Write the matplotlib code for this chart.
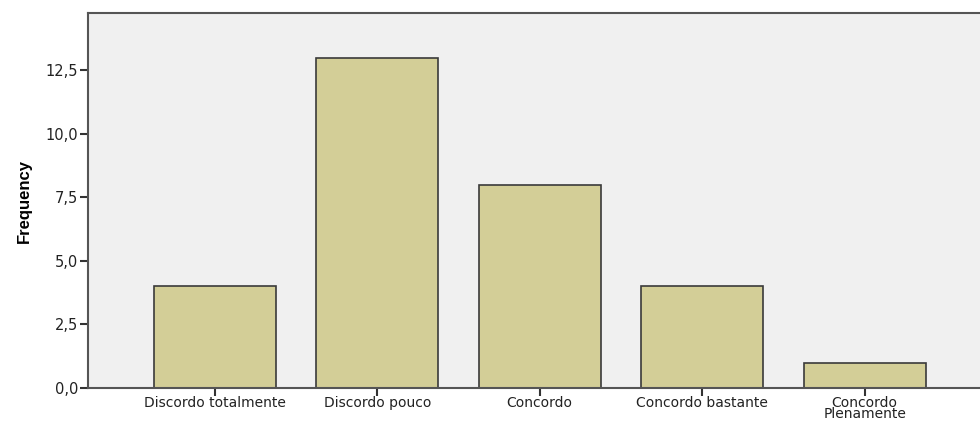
import matplotlib
matplotlib.use('Agg')
import matplotlib.pyplot as plt
from matplotlib.ticker import FuncFormatter

# Data
categories = ['Discordo totalmente', 'Discordo pouco', 'Concordo',
              'Concordo bastante', 'Concordo\nPlenamente']
frequency = [4, 13, 8, 4, 1]
yticks = [0, 2.5, 5, 7.5, 10, 12.5]

plt.rcParams['font.family'] = ['DejaVu Sans']

fig = plt.figure(figsize=(9.8, 4.21), dpi=100)
ax = fig.add_axes([0.0898, 0.0784, 0.9102, 0.8906])
ax.set_facecolor('#F0F0F0')

x = range(len(categories))
ax.bar(x, frequency, width=0.75, color='#D3CE97', edgecolor='#3a3a3a', linewidth=1.2)

ax.set_xlim(-0.78, 4.71)
ax.set_ylim(0, 14.75)
ax.set_xticks(list(x))
ax.set_xticklabels(categories, fontsize=10, linespacing=0.72, color='#222222')
ax.set_yticks(yticks)
ax.yaxis.set_major_formatter(FuncFormatter(lambda v, p: f'{v:.1f}'.replace('.', ',')))
ax.tick_params(axis='y', labelsize=10.5, labelcolor='#222222', length=6, width=1.5,
               color='#333333', pad=1)
ax.tick_params(axis='x', length=6, width=1.5, color='#333333', pad=0)

for side in ['left', 'bottom', 'top']:
    ax.spines[side].set_linewidth(1.5)
    ax.spines[side].set_color('#555555')
ax.spines['right'].set_visible(False)

ax.set_ylabel('Frequency', fontsize=12, fontweight='bold',
              family=['Liberation Sans Narrow', 'Liberation Sans'], labelpad=10)

fig.savefig('out.png', dpi=100)
